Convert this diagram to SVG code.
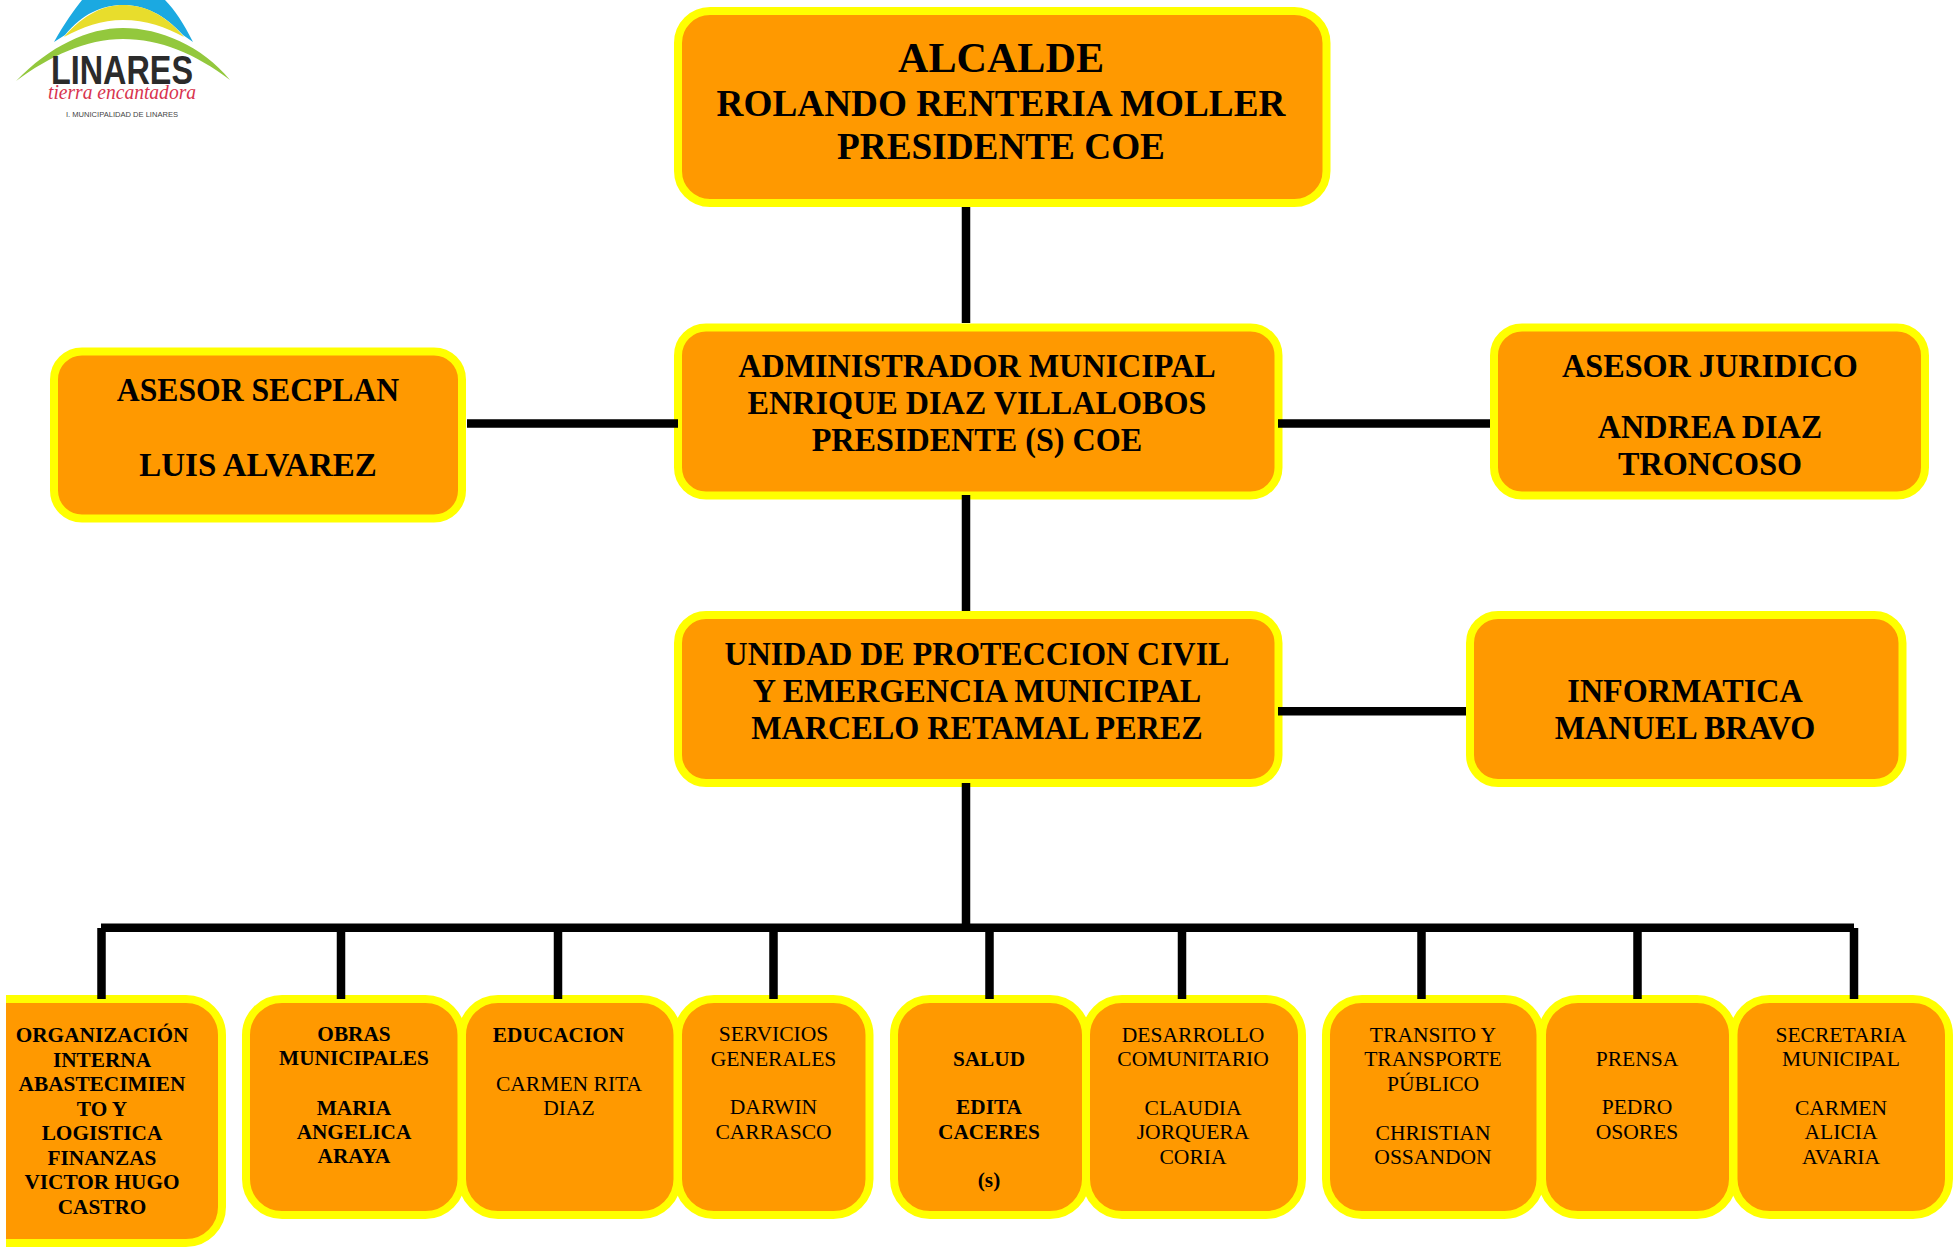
<svg xmlns="http://www.w3.org/2000/svg" width="1954" height="1250" viewBox="0 0 1954 1250">
<style>
.b{fill:#ff9900;stroke:#ffff00;stroke-width:8}
.n{fill:#ff9900;stroke:#ffff00;stroke-width:8}
text{font-family:"Liberation Serif","Times New Roman",serif;fill:#000;text-anchor:middle;transform-box:fill-box;transform-origin:center;transform:scaleX(.968)}
.h{font-weight:700;font-size:38px;transform:scaleX(.98)}
.m{font-weight:700;font-size:33px;transform:scaleX(.975)}
.s{font-size:22px}
.sb{font-size:22px;font-weight:700}
.s text,text.s{transform:scaleX(.98)}
text.l{font-family:"Liberation Sans",sans-serif;transform:none}
.c{stroke:#000;stroke-width:8.5;fill:none}
</style>
<defs><clipPath id="clip"><rect x="6" y="0" width="1948" height="1250"/></clipPath></defs>
<rect width="1954" height="1250" fill="#fff"/>
<g id="logo">
<path d="M54 42C64 24 74 10 82 0H165C175 10 184 24 193 42L183 35C164 14 144 5 123 5C102 5 82 14 65 35Z" fill="#1ba9e1"/>
<path d="M64 37C84 14 104 5 123 5C144 5 165 14 184 37C166 27 146 20 123 20C102 20 82 27 64 37Z" fill="#e8dd2c"/>
<path d="M16 81C50 46 88 28 123 28C160 28 202 46 230 80C196 54 160 39 123 39C86 39 50 56 16 81Z" fill="#93c83d"/>
<text class="l" x="122" y="84" style="font-size:40px;font-weight:700;fill:#2b2b2b" textLength="142" lengthAdjust="spacingAndGlyphs">LINARES</text>
<text class="l" x="122" y="99" style="font-family:'Liberation Serif',serif;font-size:20px;font-style:italic;fill:#d8344f" textLength="148" lengthAdjust="spacingAndGlyphs">tierra encantadora</text>
<text class="l" x="122" y="117" style="font-size:8px;fill:#444" textLength="112" lengthAdjust="spacingAndGlyphs">I. MUNICIPALIDAD DE LINARES</text>
</g>
<g id="alcalde"><rect class="b" x="678" y="11" width="648.5" height="192" rx="32"/>
<text class="h" x="1001" y="72" style="font-size:43px">ALCALDE</text><text class="h" x="1001" y="116">ROLANDO RENTERIA MOLLER</text><text class="h" x="1001" y="159">PRESIDENTE COE</text></g>
<g id="secplan"><rect class="b" x="54" y="351.500" width="408" height="167" rx="28"/>
<text class="m" x="258" y="401" style="transform:scaleX(.96)">ASESOR SECPLAN</text><text class="m" x="258" y="476" style="transform:scaleX(1)">LUIS ALVAREZ</text></g>
<g id="admin"><rect class="b" x="678" y="327.500" width="600.500" height="168" rx="28"/>
<text class="m" x="977" y="377">ADMINISTRADOR MUNICIPAL</text><text class="m" x="977" y="414">ENRIQUE DIAZ VILLALOBOS</text><text class="m" x="977" y="451">PRESIDENTE (S) COE</text></g>
<g id="juridico"><rect class="b" x="1494" y="327.500" width="431" height="168" rx="28"/>
<text class="m" x="1710" y="377">ASESOR JURIDICO</text><text class="m" x="1710" y="438">ANDREA DIAZ</text><text class="m" x="1710" y="475">TRONCOSO</text></g>
<g id="unidad"><rect class="b" x="678" y="615" width="600.500" height="168" rx="28"/>
<text class="m" x="977" y="665" style="transform:scaleX(.968)">UNIDAD DE PROTECCION CIVIL</text><text class="m" x="977" y="702">Y EMERGENCIA MUNICIPAL</text><text class="m" x="977" y="739">MARCELO RETAMAL PEREZ</text></g>
<g id="informatica"><rect class="b" x="1470" y="615" width="432.500" height="168" rx="28"/>
<text class="m" x="1685" y="702">INFORMATICA</text><text class="m" x="1685" y="739">MANUEL BRAVO</text></g>
<g id="organizacion" clip-path="url(#clip)"><rect class="b" x="-30" y="999" width="252" height="244" rx="36"/>
<g class="sb"><text x="102" y="1042">ORGANIZACIÓN</text><text x="102" y="1067">INTERNA</text><text x="102" y="1091">ABASTECIMIEN</text><text x="102" y="1116">TO Y</text><text x="102" y="1140">LOGISTICA</text><text x="102" y="1165">FINANZAS</text><text x="102" y="1189">VICTOR HUGO</text><text x="102" y="1214">CASTRO</text></g></g>
<g id="obras"><rect class="b" x="246" y="999" width="215.500" height="216" rx="36"/>
<g class="sb"><text x="354" y="1041">OBRAS</text><text x="354" y="1065">MUNICIPALES</text><text x="354" y="1115">MARIA</text><text x="354" y="1139">ANGELICA</text><text x="354" y="1163">ARAYA</text></g></g>
<g id="educacion"><rect class="b" x="462" y="999" width="215.500" height="216" rx="36"/>
<text class="sb" x="558.500" y="1042">EDUCACION</text><g class="s"><text x="569" y="1091">CARMEN RITA</text><text x="569" y="1115">DIAZ</text></g></g>
<g id="servicios"><rect class="b" x="678" y="999" width="191.500" height="216" rx="36"/>
<g class="s"><text x="773.500" y="1041">SERVICIOS</text><text x="773.500" y="1066">GENERALES</text><text x="773.500" y="1114">DARWIN</text><text x="773.500" y="1139">CARRASCO</text></g></g>
<g id="salud"><rect class="b" x="894" y="999" width="192" height="216" rx="36"/>
<g class="sb"><text x="989" y="1066">SALUD</text><text x="989" y="1114">EDITA</text><text x="989" y="1139">CACERES</text><text x="989" y="1187">(s)</text></g></g>
<g id="desarrollo"><rect class="b" x="1086" y="999" width="216" height="216" rx="36"/>
<g class="s"><text x="1193" y="1042">DESARROLLO</text><text x="1193" y="1066">COMUNITARIO</text><text x="1193" y="1115">CLAUDIA</text><text x="1193" y="1139">JORQUERA</text><text x="1193" y="1164">CORIA</text></g></g>
<g id="transito"><rect class="b" x="1326" y="999" width="214.500" height="216" rx="36"/>
<g class="s"><text x="1433" y="1042">TRANSITO Y</text><text x="1433" y="1066">TRANSPORTE</text><text x="1433" y="1091">PÚBLICO</text><text x="1433" y="1140">CHRISTIAN</text><text x="1433" y="1164">OSSANDON</text></g></g>
<g id="prensa"><rect class="b" x="1542" y="999" width="191" height="216" rx="36"/>
<g class="s"><text x="1637" y="1066">PRENSA</text><text x="1637" y="1114">PEDRO</text><text x="1637" y="1139">OSORES</text></g></g>
<g id="secretaria"><rect class="b" x="1733.500" y="999" width="215.500" height="216" rx="36"/>
<g class="s"><text x="1841" y="1042">SECRETARIA</text><text x="1841" y="1066">MUNICIPAL</text><text x="1841" y="1115">CARMEN</text><text x="1841" y="1139">ALICIA</text><text x="1841" y="1164">AVARIA</text></g></g>
<g id="connectors" class="c">
<path d="M966 207V323M966 495V611M966 783V928M467 423.500H678M1278 423.500H1490M1278 711.300H1466M101 927.700H1854"/>
<path d="M101.500 928V999M341 928V999M558 928V999M773.500 928V999M989.500 928V999M1182 928V999M1421.500 928V999M1637.500 928V999M1854 928V999"/>
</g>
</svg>
